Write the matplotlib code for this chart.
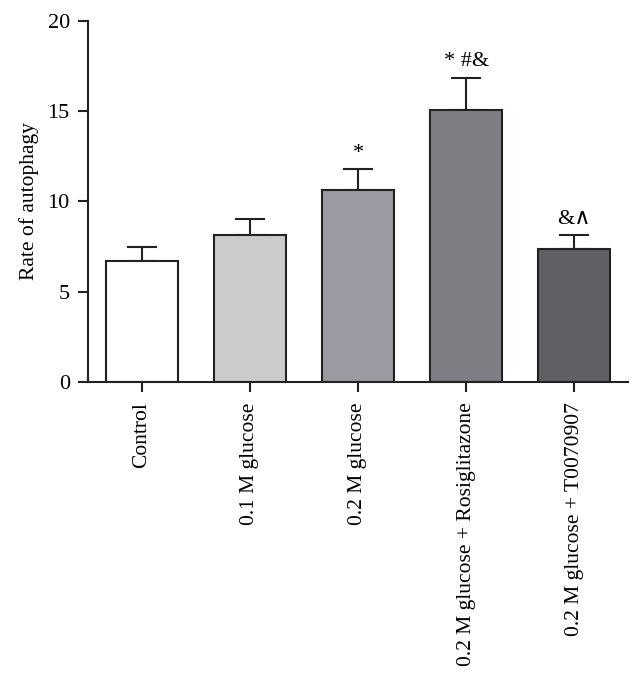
import numpy as np
import matplotlib.pyplot as plt

plt.rcParams["font.family"] = ["Liberation Serif", "DejaVu Serif"]

groups = ["Control", "0.1 M glucose", "0.2 M glucose",
          "0.2 M glucose + Rosiglitazone", "0.2 M glucose + T0070907"]
means = [6.67, 8.13, 10.61, 15.06, 7.36]
errors = [0.81, 0.89, 1.17, 1.80, 0.75]
marks = ["", "", "*", "* #&", "&\u2227"]
colors = ["#ffffff", "#cacbcd", "#9a9ba2", "#7e7f84", "#5f6064"]

fig = plt.figure(figsize=(6.41, 6.78), dpi=100)
ax = fig.add_axes([0.137, 0.437, 0.843, 0.532])

x = np.arange(len(groups))
ax.bar(x, means, width=0.66, color=colors, edgecolor="#222222", linewidth=1.5, zorder=2)
ax.errorbar(x, means, yerr=[np.zeros(len(means)), errors], fmt="none",
            ecolor="#222222", elinewidth=1.5, capsize=11, capthick=1.5, zorder=1)

for xi, m, e, t in zip(x, means, errors, marks):
    if t:
        ax.text(xi, m + e + 0.35, t, ha="center", va="bottom", fontsize=16)

ax.set_xlim(-0.5, 4.5)
ax.set_ylim(0, 20)
ax.set_yticks([0, 5, 10, 15, 20])
ax.set_xticks(x)
ax.set_xticklabels(groups, rotation=90, fontsize=15.5)
ax.tick_params(axis="y", labelsize=16, length=7, width=1.5, color="#222222", pad=6)
ax.tick_params(axis="x", length=7, width=1.5, color="#222222", pad=8)
ax.set_ylabel("Rate of autophagy", fontsize=15.5, labelpad=6)

for s in ["top", "right"]:
    ax.spines[s].set_visible(False)
for s in ["left", "bottom"]:
    ax.spines[s].set_linewidth(1.5)
    ax.spines[s].set_color("#222222")

fig.savefig("out.png", dpi=100)
